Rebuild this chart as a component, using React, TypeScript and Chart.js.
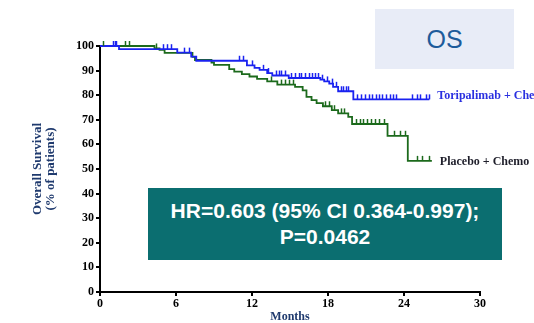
import React, { useEffect, useRef } from "react";
import { Chart, registerables } from "chart.js";

Chart.register(...registerables);

// ---- Data ----
const xTicks = [0, 6, 12, 18, 24, 30];
const yTicks = [0, 10, 20, 30, 40, 50, 60, 70, 80, 90, 100];

const toriTimes = [0, 1.5, 6.1, 7.2, 7.6, 11.6, 12.2, 12.6, 13.2, 13.6, 14.9, 17.4, 17.7, 18.1, 18.4, 18.8, 20.0, 26.0];
const toriSurv = [100, 98.7, 97.3, 95.7, 94.0, 92.1, 91.1, 90.3, 89.0, 88.0, 87.0, 86.3, 85.6, 84.7, 83.4, 81.6, 78.3, 78.3];
const toriCensor = [1.0, 1.15, 1.3, 5.0, 5.3, 5.6, 6.6, 7.0, 11.0, 11.3, 12.0, 12.9, 13.3, 13.9, 14.1, 14.3, 14.6, 15.1, 15.4, 15.7, 15.9, 16.2, 16.5, 16.7, 17.0, 17.2, 17.5, 17.9, 18.3, 18.6, 19.0, 19.2, 19.4, 19.6, 20.3, 20.6, 20.9, 21.2, 21.5, 21.8, 22.0, 22.3, 22.6, 22.9, 23.1, 23.4, 24.6, 25.0, 25.3, 25.7, 26.0];

const plaTimes = [0, 4.3, 4.7, 5.1, 7.3, 7.5, 8.8, 9.0, 10.2, 10.6, 11.2, 11.8, 12.4, 13.2, 14.0, 15.4, 16.0, 16.3, 16.7, 17.1, 17.6, 18.3, 18.8, 19.6, 19.9, 22.7, 24.3, 26.2];
const plaSurv = [100, 99.0, 98.4, 97.2, 95.6, 94.3, 93.3, 92.3, 90.6, 89.6, 88.6, 87.6, 86.6, 85.6, 84.3, 83.4, 82.0, 79.3, 78.0, 76.8, 75.5, 73.9, 72.6, 71.2, 68.3, 63.5, 53.3, 53.3];
const plaCensor = [0.2, 2.0, 2.3, 4.4, 13.5, 14.3, 14.6, 14.9, 15.2, 17.8, 18.1, 18.5, 19.0, 19.3, 20.2, 20.5, 20.8, 21.1, 21.4, 21.7, 22.0, 22.4, 23.2, 23.7, 24.1, 25.0, 25.4, 26.0];

const toriLabel = "Toripalimab + Chemo";
const plaLabel = "Placebo + Chemo";
const hrLine1 = "HR=0.603 (95% CI 0.364-0.997);";
const hrLine2 = "P=0.0462";
const badge = "OS";

const BLUE = "#1a22f0";
const GREEN = "#1c6a1c";

function survAt(times: number[], surv: number[], t: number) {
  let v = surv[0];
  for (let i = 0; i < times.length; i++) {
    if (times[i] <= t) v = surv[i];
    else break;
  }
  return v;
}

const series = [
  { times: toriTimes, surv: toriSurv, censor: toriCensor, color: BLUE, label: toriLabel, labelColor: "#2a30e0", dy: -3 },
  { times: plaTimes, surv: plaSurv, censor: plaCensor, color: GREEN, label: plaLabel, labelColor: "#1e1e2a", dy: 1 },
];

const kmPlugin = {
  id: "kmExtras",
  afterDatasetsDraw(chart: any) {
    const { ctx } = chart;
    const x = chart.scales.x;
    const y = chart.scales.y;
    series.forEach((s) => {
      ctx.save();
      ctx.strokeStyle = s.color;
      ctx.lineWidth = 1.5;
      s.censor.forEach((t) => {
        const v = survAt(s.times, s.surv, t);
        const px = Math.round(x.getPixelForValue(t)) + 0.5;
        const py = y.getPixelForValue(v);
        ctx.beginPath();
        ctx.moveTo(px, py);
        ctx.lineTo(px, py - 5);
        ctx.stroke();
      });
      ctx.fillStyle = s.labelColor;
      ctx.font = 'bold 12px "Liberation Serif", "Times New Roman", serif';
      ctx.textBaseline = "middle";
      ctx.textAlign = "left";
      const lx = x.getPixelForValue(s.times[s.times.length - 1]) + 8;
      const ly = y.getPixelForValue(s.surv[s.surv.length - 1]) + s.dy;
      ctx.fillText(s.label, lx, ly);
      ctx.restore();
    });
  },
};

export default function App() {
  const ref = useRef<HTMLCanvasElement | null>(null);

  useEffect(() => {
    if (!ref.current) return;
    const tickFont = { family: '"Liberation Serif", "Times New Roman", serif', size: 12, weight: "bold" as const };
    const chart = new Chart(ref.current, {
      type: "line",
      data: {
        datasets: series.map((s) => ({
          label: s.label,
          data: s.times.map((t, i) => ({ x: t, y: s.surv[i] })),
          borderColor: s.color,
          borderWidth: 1.8,
          pointRadius: 0,
          stepped: "before" as const,
          fill: false,
          clip: false as any,
        })),
      },
      options: {
        animation: false,
        responsive: false,
        layout: { padding: { left: 0, top: 46, right: 54, bottom: 0 } },
        plugins: { legend: { display: false }, tooltip: { enabled: false } },
        scales: {
          x: {
            type: "linear",
            min: 0,
            max: 30,
            afterBuildTicks: (axis: any) => {
              axis.ticks = xTicks.map((v) => ({ value: v }));
            },
            afterFit: (axis: any) => {
              axis.height = 31;
            },
            border: { display: true, color: "#000", width: 2 },
            grid: { display: true, drawOnChartArea: false, drawTicks: true, tickLength: 4, color: "#000", lineWidth: 2 },
            ticks: { color: "#000", font: tickFont, padding: 1, maxRotation: 0 },
            title: {
              display: true,
              text: "Months",
              color: "#1f3a6e",
              font: { family: '"Liberation Serif", "Times New Roman", serif', size: 12, weight: "bold", lineHeight: 1 },
              padding: { top: 0, bottom: 0 },
            },
          },
          y: {
            type: "linear",
            min: 0,
            max: 100,
            afterBuildTicks: (axis: any) => {
              axis.ticks = yTicks.map((v) => ({ value: v }));
            },
            afterFit: (axis: any) => {
              axis.width = 100;
            },
            border: { display: true, color: "#000", width: 2 },
            grid: { display: true, drawOnChartArea: false, drawTicks: true, tickLength: 4, color: "#000", lineWidth: 2 },
            ticks: { color: "#000", font: tickFont, padding: 2 },
            title: {
              display: true,
              text: ["Overall Survival", "(% of patients)"],
              color: "#1f3a6e",
              font: { family: '"Liberation Serif", "Times New Roman", serif', size: 13, weight: "bold", lineHeight: 1 },
              padding: { top: 31, bottom: 0 },
            },
          },
        },
      },
      plugins: [kmPlugin],
    } as any);
    return () => chart.destroy();
  }, []);

  return (
    <div style={{ position: "absolute", left: 0, top: 0, width: 534, height: 323, background: "#fff", overflow: "hidden" }}>
      <canvas ref={ref} width={534} height={323} style={{ position: "absolute", left: 0, top: 0, width: 534, height: 323 }} />
      <div
        style={{
          position: "absolute",
          left: 375,
          top: 9,
          width: 139,
          height: 60,
          background: "#e8ecf7",
          color: "#1d5b9b",
          fontFamily: '"Liberation Sans", Arial, sans-serif',
          fontSize: 25,
          display: "flex",
          alignItems: "center",
          justifyContent: "center",
        }}
      >
        {badge}
      </div>
      <div
        style={{
          position: "absolute",
          left: 148,
          top: 188,
          width: 354,
          height: 72,
          background: "#0b6e70",
          color: "#ffffff",
          fontFamily: '"Liberation Sans", Arial, sans-serif',
          fontWeight: "bold",
          fontSize: 21,
          lineHeight: "26px",
          display: "flex",
          flexDirection: "column",
          alignItems: "center",
          justifyContent: "center",
          textAlign: "center",
        }}
      >
        <div>{hrLine1}</div>
        <div>{hrLine2}</div>
      </div>
    </div>
  );
}
